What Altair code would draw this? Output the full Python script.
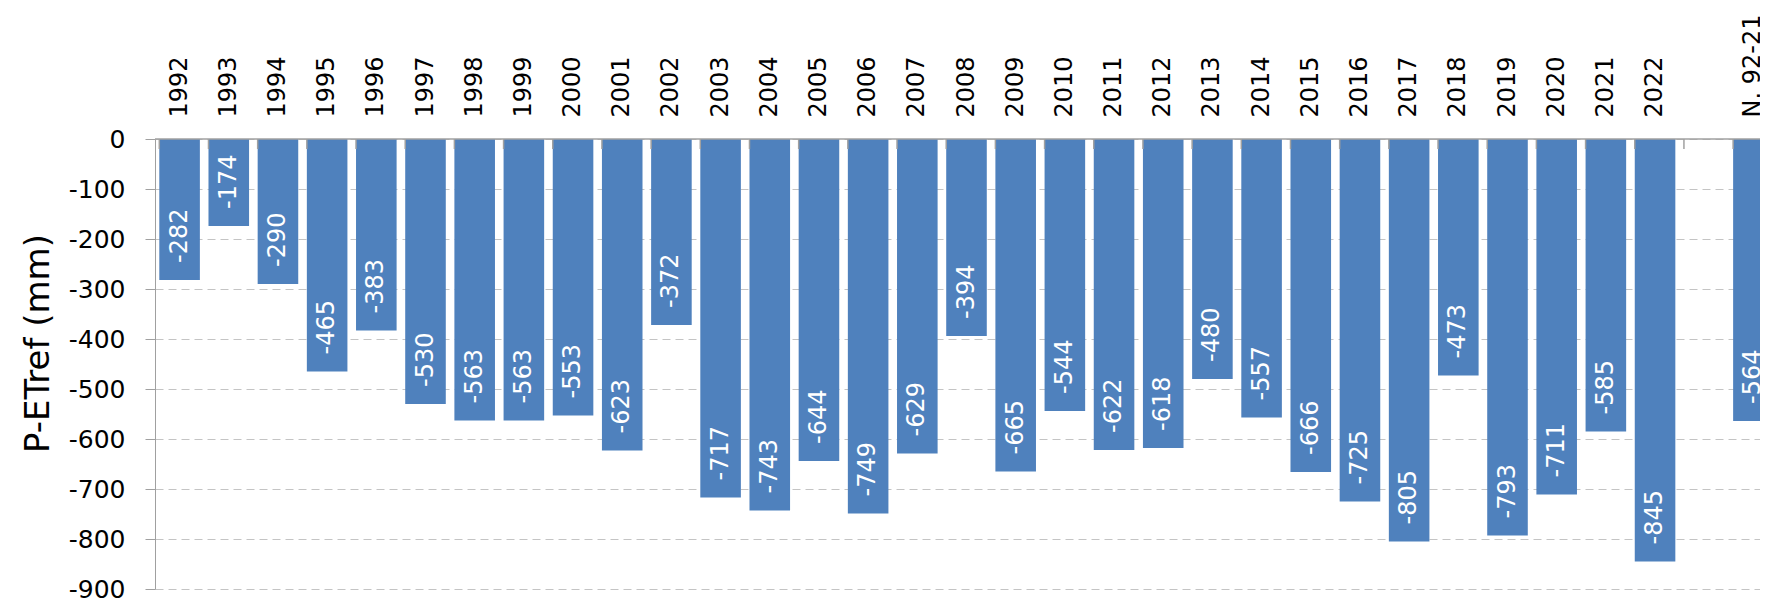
import altair as alt
import pandas as pd

years = ["1992", "1993", "1994", "1995", "1996", "1997", "1998", "1999", "2000",
         "2001", "2002", "2003", "2004", "2005", "2006", "2007", "2008", "2009",
         "2010", "2011", "2012", "2013", "2014", "2015", "2016", "2017", "2018",
         "2019", "2020", "2021", "2022"]
year_values = [-282, -174, -290, -465, -383, -530, -563, -563, -553,
               -623, -372, -717, -743, -644, -749, -629, -394, -665,
               -544, -622, -618, -480, -557, -666, -725, -805, -473,
               -793, -711, -585, -845]
normal_label = "N. 92-21"
normal_value = -564
gap_label = " "
y_ticks = [0, -100, -200, -300, -400, -500, -600, -700, -800, -900]

domain = years + [gap_label, normal_label]
bars_df = pd.DataFrame({"cat": years + [normal_label],
                        "value": year_values + [normal_value]})
ticks_df = pd.DataFrame({"cat": domain})

FONT = "DejaVu Sans"
GRAY = "#a0a0a0"
BLUE = "#4F81BD"

xs = alt.Scale(domain=domain, range=[0, 1623], paddingInner=0.175, paddingOuter=0.0875)
ys = alt.Scale(domain=[-900, 0], nice=False, zero=False)

x_axis = alt.Axis(orient="top", labelAngle=270, labelAlign="left", labelBaseline="middle",
                  ticks=False, domain=False, grid=False, labelPadding=22,
                  labelFontSize=24, labelFont=FONT, labelColor="black",
                  labelOverlap=False, title=None)
y_axis = alt.Axis(values=y_ticks, tickSize=10, tickColor=GRAY, domainColor=GRAY,
                  labelExpr="toString(datum.value)",
                  labelPadding=20, labelFontSize=25, labelFont=FONT, labelColor="black",
                  grid=True, gridDash=[8, 5], gridColor="#c4c4c4",
                  title="P-ETref (mm)", titleFontSize=34, titleFont=FONT,
                  titleFontWeight="normal", titleColor="black", titleAngle=270,
                  titleAlign="center", titleBaseline="middle", titleX=-117, titleY=204)

bars = alt.Chart(bars_df).mark_bar(color=BLUE).encode(
    x=alt.X("cat:N", scale=xs, axis=x_axis, sort=domain),
    y=alt.Y("value:Q", scale=ys, axis=y_axis),
)

labels = alt.Chart(bars_df).transform_calculate(
    lbl="toString(datum.value)"
).mark_text(angle=270, align="left", baseline="middle", dx=17,
            color="white", fontSize=24, font=FONT).encode(
    x=alt.X("cat:N", scale=xs, sort=domain),
    y=alt.Y("value:Q", scale=ys),
    text=alt.Text("lbl:N"),
)

zero_line = alt.Chart(pd.DataFrame({"v": [0]})).mark_rule(color=GRAY, strokeWidth=1.5).encode(
    y=alt.Y("v:Q", scale=ys),
)

cat_ticks = alt.Chart(ticks_df).mark_rule(color=GRAY, strokeWidth=1.5).encode(
    x=alt.X("cat:N", scale=xs, sort=domain, bandPosition=0),
    y=alt.value(0),
    y2=alt.value(10),
)

chart = alt.layer(bars, labels, zero_line, cat_ticks).properties(
    width=1605,
    height=450,
    autosize=alt.AutoSizeParams(type="none"),
    padding={"left": 147, "top": 131, "right": 0, "bottom": 10},
    background="white",
).configure_view(stroke=None)

chart.save("out.html", embed_options={"renderer": "svg", "actions": False})
